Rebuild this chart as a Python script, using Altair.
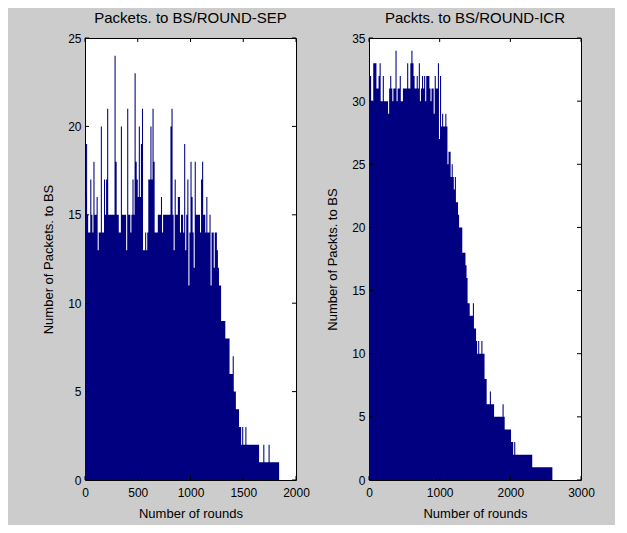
import altair as alt
import pandas as pd

# ---- data ----
sep_step = 10  # rounds per bin (left panel)
sep_values = [
    16, 19, 15, 14, 14, 17, 15, 14, 18, 15,
    15, 16, 13, 14, 14, 20, 14, 14, 17, 15,
    17, 21, 15, 15, 15, 15, 15, 15, 24, 18,
    15, 15, 14, 14, 20, 15, 15, 15, 15, 13,
    21, 15, 15, 14, 15, 17, 15, 23, 18, 17,
    16, 20, 16, 19, 21, 13, 13, 14, 13, 14,
    17, 17, 20, 17, 21, 18, 14, 14, 14,
    15, 15, 15, 16, 14, 15, 15, 15, 15, 15,
    15, 15, 20, 21, 15, 13, 17, 15, 15, 16,
    16, 14, 15, 15, 14, 19, 13, 15, 17, 11,
    14, 18, 16, 14, 12, 18, 15, 15, 15, 15,
    14, 17, 18, 15, 15, 14, 16, 14, 14, 15,
    11, 14, 14, 12, 14, 14, 13, 12,
    11, 11, 9, 9, 9, 9, 8, 8, 8, 8,
    6, 6, 6, 7, 5, 5, 4, 4, 4, 3,
    3, 2, 3, 2, 2, 3, 2, 2, 2, 2,
    2, 2, 2, 2, 2, 2, 2, 2,
    1, 1, 1, 1, 2, 1, 1, 1, 1, 2,
    1, 1, 1, 1, 1, 1, 1, 1, 1,
]

icr_step = 15  # rounds per bin (right panel)
icr_values = [
    32, 32, 30, 30, 33, 33, 33, 31, 31, 32,
    33, 30, 30, 32, 30, 30, 30, 30, 29, 31,
    32, 31, 30, 31, 31, 34, 30, 31, 31, 32,
    30, 30, 31, 31, 31, 31, 33, 31, 31, 33,
    34, 33, 32, 31, 31, 32, 31, 33, 30, 31,
    32, 31, 32, 30, 32, 32, 32, 31, 30, 31,
    31, 29, 32, 31, 31, 33, 27, 32, 28, 29,
    28, 28, 29, 28, 25, 26, 26, 24, 25, 24,
    23, 24, 22, 22, 21, 20, 20, 20, 18, 18,
    18, 17, 16, 14, 14, 13, 13, 13, 14, 12,
    12, 11, 10, 11, 10, 10, 11, 10, 10, 8,
    8, 6, 6, 6, 7, 6, 6, 6, 5, 5,
    5, 5, 5, 5, 5, 5, 6, 5, 4, 4,
    4, 4, 4, 4, 3, 3, 2, 3, 2, 2,
    2, 2, 2, 2, 2, 2, 2, 2, 2, 2,
    2, 2, 2, 2, 1, 1, 1, 1, 1, 1,
    1, 1, 1, 1, 1, 1, 1, 1, 1, 1,
    1, 1, 1,
]

sep_xticks = [0, 500, 1000, 1500, 2000]
sep_yticks = [0, 5, 10, 15, 20, 25]
icr_xticks = [0, 1000, 2000, 3000]
icr_yticks = [0, 5, 10, 15, 20, 25, 30, 35]

sep_title = "Packets. to BS/ROUND-SEP"
icr_title = "Packts. to BS/ROUND-ICR"
sep_ytitle = "Number of Packets. to BS"
icr_ytitle = "Number of Packts. to BS"
xtitle = "Number of rounds"

FONT = "Liberation Sans"
BAR = "#000080"


def panel(values, step, xmax, ymax, xticks, yticks, title, ytitle, W, H):
    rounds = [i * step for i in range(len(values))]
    df = pd.DataFrame({"v": rounds + [len(values) * step],
                       "p": values + [values[-1]]})
    xaxis = alt.Axis(values=xticks, title=xtitle, ticks=False, grid=False,
                     domain=False, labelPadding=7, titlePadding=9,
                     format="d", labelFlush=False)
    yaxis = alt.Axis(values=yticks, title=ytitle, ticks=False, grid=False,
                     domain=False, labelPadding=4, titlePadding=12,
                     format="d")
    xs = alt.Scale(domain=[0, xmax], nice=False)
    ys = alt.Scale(domain=[0, ymax], nice=False)

    area = alt.Chart(df).mark_area(interpolate="step-after", color=BAR,
                                   opacity=1).encode(
        x=alt.X("v:Q", scale=xs, axis=xaxis),
        y=alt.Y("p:Q", scale=ys, axis=yaxis),
    )
    ydf = pd.DataFrame({"v": [0] * len(yticks), "p": yticks})
    xdf = pd.DataFrame({"v": xticks, "p": [0] * len(xticks)})
    tl = alt.Chart(ydf).mark_rule(color="black").encode(
        y=alt.Y("p:Q", scale=ys, axis=yaxis), x=alt.value(0), x2=alt.value(4))
    tr = alt.Chart(ydf).mark_rule(color="black").encode(
        y=alt.Y("p:Q", scale=ys, axis=yaxis), x=alt.value(W - 4), x2=alt.value(W))
    tb = alt.Chart(xdf).mark_rule(color="black").encode(
        x=alt.X("v:Q", scale=xs, axis=xaxis), y=alt.value(H - 4), y2=alt.value(H))
    tt = alt.Chart(xdf).mark_rule(color="black").encode(
        x=alt.X("v:Q", scale=xs, axis=xaxis), y=alt.value(0), y2=alt.value(4))
    return alt.layer(area, tl, tr, tb, tt).properties(
        width=W, height=H,
        title=alt.TitleParams(title, fontSize=15, fontWeight="normal",
                              font=FONT, color="black", offset=6),
    )


left = panel(sep_values, sep_step, 2000, 25, sep_xticks, sep_yticks,
             sep_title, sep_ytitle, 211, 442)
right = panel(icr_values, icr_step, 3000, 35, icr_xticks, icr_yticks,
              icr_title, icr_ytitle, 212, 442)

chart = alt.hconcat(left, right, spacing=16).properties(
    background="#cccccc",
    padding={"left": 34, "top": 2, "right": 20, "bottom": 4},
).configure_view(
    fill="white", stroke="black", strokeWidth=1,
).configure_axis(
    labelFont=FONT, titleFont=FONT, labelFontSize=12, titleFontSize=13,
    labelColor="black", titleColor="black", titleFontWeight="normal",
)

chart.save("out.html", embed_options={"renderer": "svg", "actions": False})
